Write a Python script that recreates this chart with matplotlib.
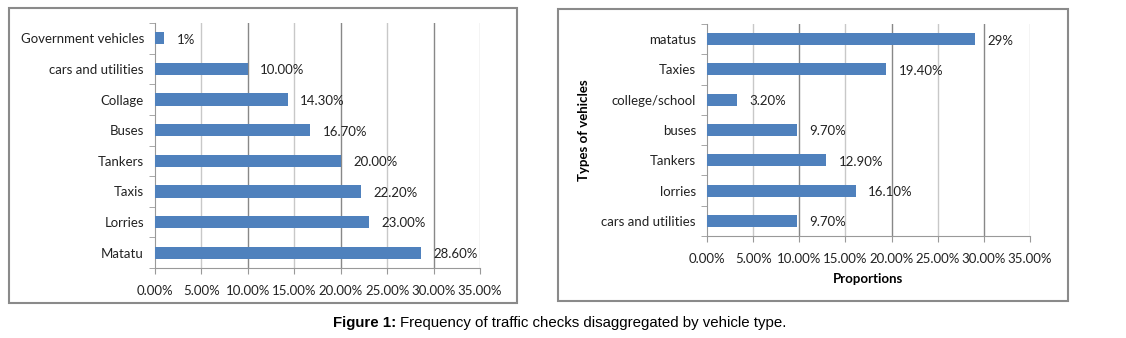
import matplotlib.pyplot as plt
from matplotlib.patches import Rectangle
from matplotlib.ticker import FuncFormatter, FixedLocator

# left chart (top to bottom)
left_cats = ['Government vehicles', 'cars and utilities', 'Collage', 'Buses',
             'Tankers', 'Taxis', 'Lorries', 'Matatu']
left_vals = [1.0, 10.0, 14.3, 16.7, 20.0, 22.2, 23.0, 28.6]
left_labels = ['1%', '10.00%', '14.30%', '16.70%', '20.00%', '22.20%', '23.00%', '28.60%']

# right chart (top to bottom)
right_cats = ['matatus', 'Taxies', 'college/school', 'buses', 'Tankers',
              'lorries', 'cars and utilities']
right_vals = [29.0, 19.4, 3.2, 9.7, 12.9, 16.1, 9.7]
right_labels = ['29%', '19.40%', '3.20%', '9.70%', '12.90%', '16.10%', '9.70%']

xticks = [0, 5, 10, 15, 20, 25, 30, 35]

W, H = 1126, 338
FONT = 'Lato'
BAR = '#4F81BD'

fig = plt.figure(figsize=(W / 100, H / 100), dpi=100, facecolor='white')


def px_axes(x0, x1, y0, y1):
    return fig.add_axes([x0 / W, 1 - y1 / H, (x1 - x0) / W, (y1 - y0) / H])


def draw(ax, cats, vals, labels):
    n = len(cats)
    ys = list(range(n))[::-1]
    ax.barh(ys, vals, height=0.4, color=BAR, zorder=3)
    for y, v, t in zip(ys, vals, labels):
        ax.annotate(t, (v, y), xytext=(9, -1), textcoords='offset points',
                    va='center', ha='left', fontsize=9.5, family=FONT, color='#222222')
    ax.set_xlim(0, 35)
    ax.set_ylim(-0.5, n - 0.5)
    ax.set_xticks(xticks)
    ax.xaxis.set_major_formatter(FuncFormatter(lambda v, p: '%.2f%%' % v))
    ax.set_yticks(ys)
    ax.set_yticklabels(cats)
    ax.yaxis.set_minor_locator(FixedLocator([i - 0.5 for i in range(n + 1)]))
    ax.tick_params(axis='y', which='major', length=0, pad=8)
    ax.tick_params(axis='y', which='minor', length=4, color='#999999')
    ax.tick_params(axis='x', length=4, color='#999999', pad=8)
    for lab in ax.get_xticklabels() + ax.get_yticklabels():
        lab.set_family(FONT)
        lab.set_fontsize(9.5)
        lab.set_color('#222222')
    for x in xticks[1:]:
        ax.axvline(x, color='#888888' if x % 10 == 0 else '#c8c8c8', lw=1, zorder=1)
    for s in ['top', 'right']:
        ax.spines[s].set_visible(False)
    for s in ['left', 'bottom']:
        ax.spines[s].set_color('#999999')


ax1 = px_axes(155, 480, 23, 268)
draw(ax1, left_cats, left_vals, left_labels)

ax2 = px_axes(707, 1030, 24, 236)
draw(ax2, right_cats, right_vals, right_labels)
ax2.set_xlabel('Proportions', family=FONT, fontsize=9.5, fontweight='bold', labelpad=6)
ax2.set_ylabel('Types of vehicles', family=FONT, fontsize=9.5, fontweight='bold', labelpad=8)

# panel borders
fig.patches.append(Rectangle((9 / W, 1 - 303 / H), 508 / W, 295 / H, transform=fig.transFigure,
                             fill=False, edgecolor='#8a8a8a', lw=1.5))
fig.patches.append(Rectangle((558 / W, 1 - 301 / H), 510 / W, 292 / H, transform=fig.transFigure,
                             fill=False, edgecolor='#8a8a8a', lw=1.5))

# caption: bold lead-in followed by plain text
t1 = fig.text(333 / W, 1 - 323 / H, 'Figure 1:', ha='left', va='center', fontsize=10.8,
              family='Liberation Sans', fontweight='bold')
fig.canvas.draw()
bb = t1.get_window_extent()
fig.text((bb.x1 + 4) / W, 1 - 323 / H, 'Frequency of traffic checks disaggregated by vehicle type.',
         ha='left', va='center', fontsize=10.8, family='Liberation Sans')

fig.savefig('out.png', dpi=100, facecolor='white')
